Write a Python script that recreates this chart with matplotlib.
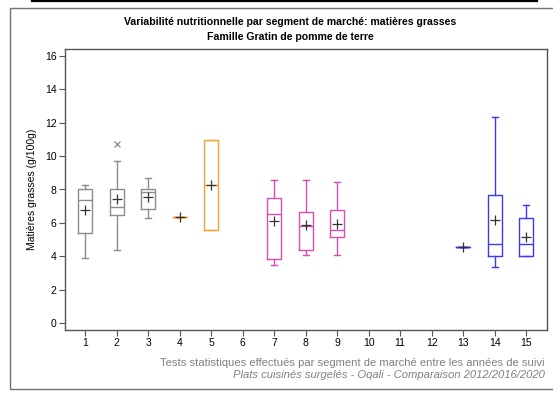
import matplotlib.pyplot as plt
from matplotlib.patches import Rectangle
from matplotlib.lines import Line2D

plt.rcParams['font.family'] = ['Liberation Sans', 'DejaVu Sans']

# segments de marché et statistiques
segments = [1, 2, 3, 4, 5, 7, 8, 9, 13, 14, 15]
q1 = [5.41, 6.47, 6.85, 6.37, 5.57, 3.82, 4.38, 5.15, 4.58, 4.00, 4.04]
med = [7.40, 6.96, 7.86, 6.37, 8.26, 6.55, 5.83, 5.59, 4.58, 4.72, 4.76]
q3 = [8.04, 8.04, 8.04, 6.37, 10.94, 7.50, 6.67, 6.77, 4.58, 7.66, 6.27]
whislo = [3.88, 4.38, 6.27, 6.37, 5.57, 3.48, 4.08, 4.08, 4.58, 3.38, 4.04]
whishi = [8.24, 9.73, 8.66, 6.37, 10.94, 8.56, 8.56, 8.46, 4.58, 12.36, 7.06]
means = [6.75, 7.42, 7.54, 6.37, 8.26, 6.09, 5.85, 5.95, 4.58, 6.15, 5.15]
fliers = [[], [10.75], [], [], [], [], [], [], [], [], []]
colors = ['#8c8c8c', '#8c8c8c', '#8c8c8c', '#f7a030', '#f7a030',
          '#d94fae', '#d94fae', '#d94fae', '#3a3aff', '#3a3aff', '#3a3aff']

stats = []
for i in range(len(segments)):
    stats.append(dict(q1=q1[i], med=med[i], q3=q3[i], whislo=whislo[i],
                      whishi=whishi[i], mean=means[i], fliers=fliers[i]))

fig = plt.figure(figsize=(5.53, 4.08), dpi=100)
ax = fig.add_axes([65 / 553, 1 - 330 / 408, 482 / 553, 281 / 408])

for i, s in enumerate(stats):
    c = colors[i]
    ax.bxp([s], positions=[segments[i]], widths=0.44, capwidths=0.2,
           showmeans=True, showfliers=True,
           boxprops=dict(color=c, linewidth=1.0),
           medianprops=dict(color=c, linewidth=1.0),
           whiskerprops=dict(color=c, linewidth=1.0),
           capprops=dict(color=c, linewidth=1.0),
           meanprops=dict(marker='+', markeredgecolor='#333333',
                          markersize=7, markeredgewidth=0.9),
           flierprops=dict(marker='x', markeredgecolor='#8c8c8c',
                           markersize=5, markeredgewidth=0.9))

ax.set_xlim(0.36, 15.66)
ax.set_ylim(-0.4, 16.4)
ax.set_xticks(range(1, 16))
ax.set_xticklabels([str(k) for k in range(1, 16)])
ax.set_yticks(range(0, 17, 2))
ax.tick_params(labelsize=7.5, length=4, width=0.8, color='#555555', pad=2)
for sp in ax.spines.values():
    sp.set_color('#555555')
    sp.set_linewidth(1.0)
ax.set_ylabel('Matières grasses (g/100g)', fontsize=7.5, labelpad=6)

fig.text(290 / 553, 1 - 22 / 408,
         'Variabilité nutritionnelle par segment de marché: matières grasses',
         ha='center', va='center', fontsize=7.6, fontweight='bold')
fig.text(290 / 553, 1 - 37 / 408, 'Famille Gratin de pomme de terre',
         ha='center', va='center', fontsize=7.6, fontweight='bold')

fig.text(545 / 553, 1 - 363 / 408,
         'Tests statistiques effectués par segment de marché entre les années de suivi',
         ha='right', va='center', fontsize=8.1, color='#808080')
fig.text(545 / 553, 1 - 375 / 408,
         'Plats cuisinés surgelés - Oqali - Comparaison 2012/2016/2020',
         ha='right', va='center', fontsize=8.1, color='#808080', style='italic')

# cadre extérieur et trait noir du haut
fig.add_artist(Rectangle((10 / 553, 1 - 389 / 408), 1.0, 381 / 408,
                         transform=fig.transFigure, fill=False,
                         edgecolor='#707070', linewidth=1.0))
fig.add_artist(Line2D([32 / 553, 537 / 553], [1 - 1 / 408, 1 - 1 / 408],
                      transform=fig.transFigure, color='black', linewidth=1.6))

fig.savefig('out.png', dpi=100)
